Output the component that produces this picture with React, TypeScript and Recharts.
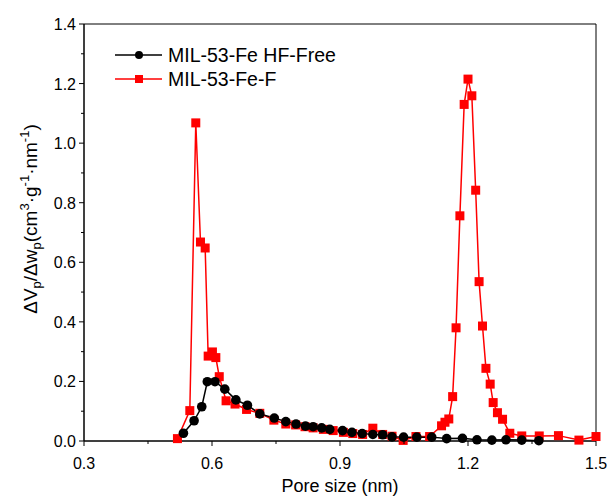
import { Line, LineChart, ReferenceArea, XAxis, YAxis } from 'recharts'

// pore size (nm) / dV/dw values
const hfFreeX = [
  0.533, 0.558, 0.576, 0.589, 0.607, 0.63, 0.656, 0.683, 0.712, 0.746, 0.773, 0.797, 0.819, 0.837, 0.857, 0.876,
  0.906, 0.928, 0.952, 0.977, 1.0, 1.022, 1.049, 1.08, 1.115, 1.15, 1.187, 1.221, 1.256, 1.289, 1.326, 1.366,
]
const hfFreeY = [
  0.026, 0.068, 0.115, 0.199, 0.199, 0.174, 0.138, 0.12, 0.091, 0.077, 0.065, 0.057, 0.05, 0.048, 0.044, 0.039,
  0.035, 0.029, 0.025, 0.022, 0.021, 0.014, 0.013, 0.013, 0.013, 0.008, 0.009, 0.004, 0.003, 0.004, 0.003, 0.001,
]

const feFX = [
  0.519, 0.548, 0.562, 0.573, 0.584, 0.591, 0.601, 0.609, 0.617, 0.633, 0.654, 0.681, 0.712, 0.745, 0.773, 0.796,
  0.818, 0.837, 0.861, 0.884, 0.908, 0.93, 0.953, 0.977, 1.0, 1.022, 1.048, 1.078, 1.11, 1.138, 1.146, 1.155, 1.164,
  1.172, 1.181, 1.191, 1.2, 1.209, 1.218, 1.226, 1.234, 1.242, 1.252, 1.259, 1.269, 1.281, 1.298, 1.326, 1.367,
  1.412, 1.46, 1.5,
]
const feFY = [
  0.008, 0.102, 1.068, 0.668, 0.648, 0.285, 0.299, 0.28, 0.216, 0.135, 0.124, 0.106, 0.093, 0.07, 0.057, 0.054,
  0.048, 0.044, 0.039, 0.035, 0.029, 0.025, 0.022, 0.043, 0.022, 0.016, 0.002, 0.015, 0.015, 0.051, 0.063, 0.074,
  0.149, 0.38, 0.756, 1.13, 1.215, 1.159, 0.842, 0.535, 0.386, 0.244, 0.191, 0.129, 0.095, 0.073, 0.026, 0.017,
  0.017, 0.018, 0.003, 0.015,
]

const xMajor = [0.3, 0.6, 0.9, 1.2, 1.5]
const xMinor = [0.45, 0.75, 1.05, 1.35]
const yMajor = [0, 0.2, 0.4, 0.6, 0.8, 1.0, 1.2, 1.4]
const yMinor = [0.1, 0.3, 0.5, 0.7, 0.9, 1.1, 1.3]

const hfFree = hfFreeX.map((x, i) => ({ x, y: hfFreeY[i] }))
const feF = feFX.map((x, i) => ({ x, y: feFY[i] }))

const FONT = 'Arial, "Liberation Sans", sans-serif'
const RED = '#FF0000'

function XTick({ x, y, payload }: any) {
  const major = xMajor.includes(payload.value)
  return (
    <g>
      <line x1={x} x2={x} y1={y} y2={y + (major ? 5 : 3)} stroke="#000" strokeWidth={1} />
      {major && (
        <text x={x} y={y + 28} textAnchor="middle" fontSize={16} fontFamily={FONT} fill="#000">
          {payload.value.toFixed(1)}
        </text>
      )}
    </g>
  )
}

function YTick({ x, y, payload }: any) {
  const major = yMajor.includes(payload.value)
  return (
    <g>
      <line x1={x} x2={x - (major ? 5 : 3)} y1={y} y2={y} stroke="#000" strokeWidth={1} />
      {major && (
        <text x={x - 8} y={y + 6} textAnchor="end" fontSize={16} fontFamily={FONT} fill="#000">
          {payload.value.toFixed(1)}
        </text>
      )}
    </g>
  )
}

function Square({ cx, cy, index, fill }: any) {
  if (cx == null || cy == null) return null
  return <rect key={`s${index}`} x={cx - 4.5} y={cy - 4.5} width={9} height={9} fill={fill} />
}

function Dot({ cx, cy, index }: any) {
  if (cx == null || cy == null) return null
  return <circle key={`c${index}`} cx={cx} cy={cy} r={4.8} fill="#000" />
}

function YTitle() {
  return (
    <text transform="rotate(-90 37 219)" x={37} y={219} textAnchor="middle" fontSize={19} fontFamily={FONT} fill="#000">
      <tspan>ΔV</tspan>
      <tspan fontSize={13} dy={4}>p</tspan>
      <tspan dy={-4}>/Δw</tspan>
      <tspan fontSize={13} dy={4}>p</tspan>
      <tspan dy={-4}>(cm</tspan>
      <tspan fontSize={13} dy={-8}>3</tspan>
      <tspan dy={8}>·g</tspan>
      <tspan fontSize={13} dy={-8}>-1</tspan>
      <tspan dy={8}>·nm</tspan>
      <tspan fontSize={13} dy={-8}>-1</tspan>
      <tspan dy={8}>)</tspan>
    </text>
  )
}

export default function App() {
  return (
    <div style={{ position: 'absolute', left: 0, top: 0, width: 607, height: 497, background: '#fff' }}>
      <LineChart width={607} height={497} margin={{ top: 24, right: 11, left: 0, bottom: 0 }}>
        <XAxis
          type="number"
          dataKey="x"
          domain={[0.3, 1.5]}
          ticks={[...xMajor, ...xMinor].sort((a, b) => a - b)}
          tick={<XTick />}
          tickLine={false}
          tickSize={0}
          tickMargin={0}
          height={56}
          axisLine={{ stroke: '#000' }}
          label={{
            content: () => (
              <text x={340} y={492} textAnchor="middle" fontSize={18} fontFamily={FONT} fill="#000">
                Pore size (nm)
              </text>
            ),
          }}
        />
        <YAxis
          type="number"
          dataKey="y"
          domain={[0, 1.4]}
          ticks={[...yMajor, ...yMinor].sort((a, b) => a - b)}
          tick={<YTick />}
          tickLine={false}
          tickSize={0}
          tickMargin={0}
          width={84}
          axisLine={{ stroke: '#000' }}
          label={{ content: () => <YTitle /> }}
        />
        <ReferenceArea x1={0.3} x2={1.5} y1={0} y2={1.4} fill="none" stroke="#000" strokeWidth={1} ifOverflow="visible" />
        <Line
          data={feF}
          dataKey="y"
          stroke={RED}
          strokeWidth={1.5}
          dot={(p: any) => <Square {...p} fill={RED} />}
          isAnimationActive={false}
        />
        <Line data={hfFree} dataKey="y" stroke="#000" strokeWidth={1.5} dot={(p: any) => <Dot {...p} />} isAnimationActive={false} />
      </LineChart>
      <div style={{ position: 'absolute', left: 112, top: 43, fontFamily: FONT, fontSize: 19.5, lineHeight: '24px' }}>
        <div style={{ display: 'flex', alignItems: 'center', height: 24 }}>
          <svg width={54} height={12}>
            <line x1={3} x2={50} y1={6} y2={6} stroke="#000" strokeWidth={1.5} />
            <circle cx={27} cy={6} r={4} fill="#000" />
          </svg>
          <span style={{ marginLeft: 2 }}>MIL-53-Fe HF-Free</span>
        </div>
        <div style={{ display: 'flex', alignItems: 'center', height: 24 }}>
          <svg width={54} height={12}>
            <line x1={3} x2={50} y1={6} y2={6} stroke={RED} strokeWidth={1.5} />
            <rect x={23} y={2} width={8} height={8} fill={RED} />
          </svg>
          <span style={{ marginLeft: 2 }}>MIL-53-Fe-F</span>
        </div>
      </div>
    </div>
  )
}
